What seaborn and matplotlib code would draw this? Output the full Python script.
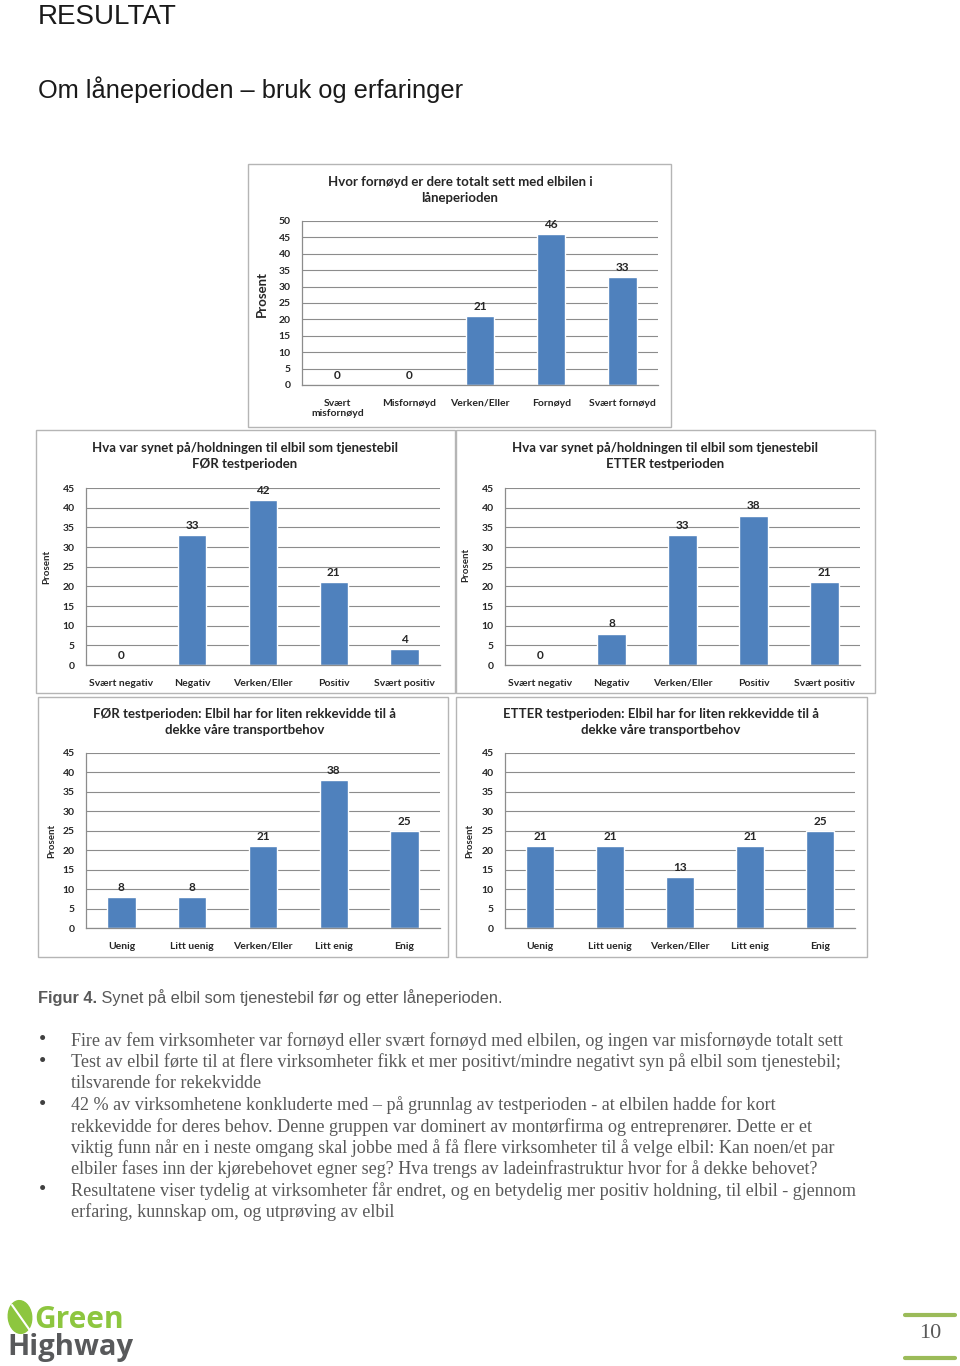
import matplotlib
matplotlib.use('Agg')
import matplotlib.pyplot as plt
import seaborn as sns
from matplotlib.patches import Rectangle, Ellipse
from matplotlib.lines import Line2D

# data
satisfaction_cats = ['Svært\nmisfornøyd', 'Misfornøyd', 'Verken/Eller', 'Fornøyd', 'Svært fornøyd']
satisfaction_vals = [0, 0, 21, 46, 33]
attitude_cats = ['Svært negativ', 'Negativ', 'Verken/Eller', 'Positiv', 'Svært positiv']
attitude_before = [0, 33, 42, 21, 4]
attitude_after = [0, 8, 33, 38, 21]
range_cats = ['Uenig', 'Litt uenig', 'Verken/Eller', 'Litt enig', 'Enig']
range_before = [8, 8, 21, 38, 25]
range_after = [21, 21, 13, 21, 25]

bullets = [
    ["Fire av fem virksomheter var fornøyd eller svært fornøyd med elbilen, og ingen var misfornøyde totalt sett"],
    ["Test av elbil førte til at flere virksomheter fikk et mer positivt/mindre negativt syn på elbil som tjenestebil;",
     "tilsvarende for rekekvidde"],
    ["42 % av virksomhetene konkluderte med – på grunnlag av testperioden - at elbilen hadde for kort",
     "rekkevidde for deres behov. Denne gruppen var dominert av montørfirma og entreprenører. Dette er et",
     "viktig funn når en i neste omgang skal jobbe med å få flere virksomheter til å velge elbil: Kan noen/et par",
     "elbiler fases inn der kjørebehovet egner seg? Hva trengs av ladeinfrastruktur hvor for å dekke behovet?"],
    ["Resultatene viser tydelig at virksomheter får endret, og en betydelig mer positiv holdning, til elbil - gjennom",
     "erfaring, kunnskap om, og utprøving av elbil"],
]

sns.set_style("white")
plt.rcParams['font.family'] = ['Lato', 'DejaVu Sans']

W, H = 960, 1366
BLUE = '#4F81BD'
GRID = '#8c8c8c'

fig = plt.figure(figsize=(W / 100, H / 100), dpi=100)


def fx(x):
    return x / W


def fy(y):
    return 1 - y / H


def box(x0, y0, x1, y1):
    return [x0 / W, 1 - y1 / H, (x1 - x0) / W, (y1 - y0) / H]


def draw_chart(frame, plot, title, title_xy, cats, vals, ymax, ylab_xy, big=False):
    x0, y0, x1, y1 = frame
    fig.patches.append(Rectangle((fx(x0), fy(y1)), (x1 - x0) / W, (y1 - y0) / H,
                                 transform=fig.transFigure, fill=False,
                                 edgecolor='#b5b5b5', lw=1.0))
    ax = fig.add_axes(box(*plot))
    sns.barplot(x=cats, y=vals, color=BLUE, width=0.4, saturation=1, ax=ax)
    ax.bar_label(ax.containers[0], fmt='%d', padding=3, fontsize=8.5, fontweight='bold')
    ax.set_ylim(0, ymax)
    ax.set_xlim(-0.5, 4.5)
    ax.set_yticks(range(0, ymax + 1, 5))
    ax.yaxis.grid(True, color=GRID, lw=0.8)
    ax.set_axisbelow(True)
    for s in ['top', 'right']:
        ax.spines[s].set_visible(False)
    for s in ['left', 'bottom']:
        ax.spines[s].set_color(GRID)
        ax.spines[s].set_linewidth(0.9)
    ax.tick_params(axis='y', length=4, color=GRID, pad=4, labelsize=7.5)
    ax.tick_params(axis='x', which='major', length=0, pad=10, labelsize=7.5)
    ax.set_xticks([i - 0.5 for i in range(6)], minor=True)
    ax.tick_params(axis='x', which='minor', length=4, color=GRID)
    for lab in ax.get_xticklabels() + ax.get_yticklabels():
        lab.set_fontweight('bold')
    ax.set_xlabel('')
    ax.set_ylabel('')
    fig.text(fx(ylab_xy[0]), fy(ylab_xy[1]), 'Prosent', rotation=90, ha='center', va='center',
             fontsize=9.5 if big else 7, fontweight='bold')
    fig.text(fx(title_xy[0]), fy(title_xy[1]), title, ha='center', va='center',
             fontsize=9.5, fontweight='bold', linespacing=1.4)
    return ax


draw_chart((248, 164, 671, 427), (302, 221, 658, 385),
           'Hvor fornøyd er dere totalt sett med elbilen i\nlåneperioden', (460, 190),
           satisfaction_cats, satisfaction_vals, 50, (262, 294), big=True)
draw_chart((36, 430, 455, 693), (86, 488, 440, 665),
           'Hva var synet på/holdningen til elbil som tjenestebil\nFØR testperioden', (245, 456),
           attitude_cats, attitude_before, 45, (47, 567))
draw_chart((456, 430, 875, 693), (505, 488, 860, 665),
           'Hva var synet på/holdningen til elbil som tjenestebil\nETTER testperioden', (665, 456),
           attitude_cats, attitude_after, 45, (466, 565))
draw_chart((38, 697, 448, 957), (86, 753, 440, 928),
           'FØR testperioden: Elbil har for liten rekkevidde til å\ndekke våre transportbehov', (245, 722),
           range_cats, range_before, 45, (52, 841))
draw_chart((456, 697, 867, 957), (505, 753, 855, 928),
           'ETTER testperioden: Elbil har for liten rekkevidde til å\ndekke våre transportbehov', (661, 722),
           range_cats, range_after, 45, (470, 841))

# page header
fig.text(fx(38), fy(17), 'RESULTAT', fontsize=20, family='Liberation Sans',
         ha='left', va='center', color='#1a1a1a')
fig.text(fx(38), fy(90), 'Om låneperioden – bruk og erfaringer', fontsize=18.3,
         family='Liberation Sans', ha='left', va='center', color='#1a1a1a')

# figure caption
cap1 = fig.text(fx(38), fy(998), 'Figur 4.', fontsize=11.8, fontweight='bold',
                family=['Liberation Sans Narrow', 'Liberation Sans'], ha='left', va='center', color='#595959')
fig.canvas.draw()
ext = cap1.get_window_extent(fig.canvas.get_renderer())
fig.text(ext.x1 / W, fy(998), ' Synet på elbil som tjenestebil før og etter låneperioden.',
         fontsize=11.8, family=['Liberation Sans Narrow', 'Liberation Sans'],
         ha='left', va='center', color='#595959')

# bullet list
y = 1041
for item in bullets:
    fig.text(fx(43), fy(y), '•', fontsize=15, family='Liberation Serif', ha='center', va='center',
             color='#404040')
    for line in item:
        fig.text(fx(71), fy(y), line, fontsize=13.1, family='Liberation Serif',
                 ha='left', va='center', color='#595959')
        y += 21.4

# page number with green rules
fig.lines.append(Line2D([fx(905), fx(955)], [fy(1315), fy(1315)], transform=fig.transFigure,
                        color='#9bbb59', lw=3))
fig.lines.append(Line2D([fx(905), fx(955)], [fy(1358), fy(1358)], transform=fig.transFigure,
                        color='#9bbb59', lw=3))
fig.text(fx(930), fy(1334), '10', fontsize=16, family='Liberation Serif', ha='center',
         va='center', color='#595959')

# Green Highway logo
fig.patches.append(Ellipse((fx(20), fy(1317)), 24 / W, 32 / H, angle=-35,
                           transform=fig.transFigure, color='#8dc63f'))
fig.lines.append(Line2D([fx(12), fx(31)], [fy(1305), fy(1332)], transform=fig.transFigure,
                        color='white', lw=1.5))
fig.text(fx(34), fy(1320), 'Green', fontsize=21.5, fontweight='bold', family='Open Sans',
         ha='left', va='center', color='#8dc63f')
fig.text(fx(7), fy(1348), 'Highway', fontsize=21, fontweight='bold', family='Open Sans',
         ha='left', va='center', color='#58595b')

fig.savefig('out.png', dpi=100)
